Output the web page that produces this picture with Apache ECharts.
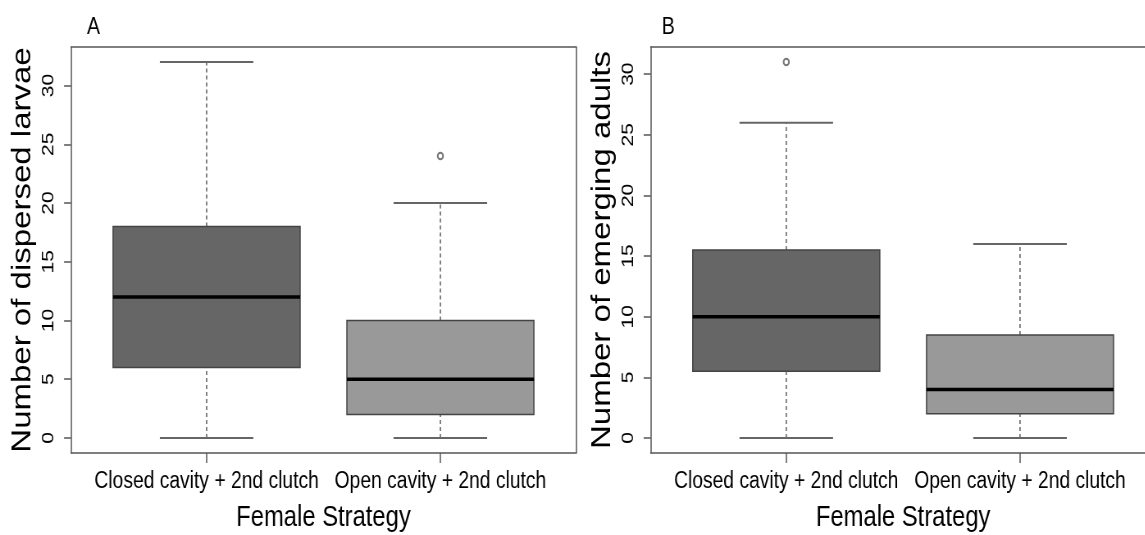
<!DOCTYPE html>
<html>
<head>
<meta charset="utf-8">
<script src="https://cdn.jsdelivr.net/npm/echarts@6/dist/echarts.min.js"></script>
<style>
  html, body { margin: 0; padding: 0; background: #fff; overflow: hidden; width: 1145px; height: 535px; }
  /* the figure is laid out wide and compressed horizontally */
  #chart { width: 1420px; height: 535px; transform: scaleX(0.82); transform-origin: 0 0; }
</style>
</head>
<body>
<div id="chart"></div>
<script>
// ---- data ----
const categories = ['Closed cavity + 2nd clutch', 'Open cavity + 2nd clutch'];
const panelLetters = ['A', 'B'];
const yTitles = ['Number of dispersed larvae', 'Number of emerging adults'];
const xTitle = 'Female Strategy';
const yTicks = [0, 5, 10, 15, 20, 25, 30];
const xTicks = [1, 2];

// five-number summaries per group: [lower whisker, Q1, median, Q3, upper whisker]
const larvaeStats = [[0, 6, 12, 18, 32], [0, 2, 5, 10, 20]];
const adultsStats = [[0, 5.5, 10, 15.5, 26], [0, 2, 4, 8.5, 16]];
// outliers: [group position, value]
const larvaeOutliers = [[2, 24]];
const adultsOutliers = [[1, 31]];

const boxFills = ['#666666', '#999999'];

// ---- styling ----
const FONT = '"Liberation Sans", Arial, Helvetica, sans-serif';
const INK = '#000';
const LINE = '#555';
const FRAME = { show: true, onZero: false, lineStyle: { color: LINE, width: 1.5 } };

// axis extent: data range padded by 4% on each side
function paddedRange(stats, outliers) {
  const vals = stats.flat().concat(outliers.map(o => o[1]));
  const lo = Math.min(...vals), hi = Math.max(...vals);
  const pad = (hi - lo) * 0.04;
  return [lo - pad, hi + pad];
}

function renderBox(params, api) {
  const x = api.value(0);
  const lo = api.value(1), q1 = api.value(2), md = api.value(3), q3 = api.value(4), hi = api.value(5);
  const half = api.size([0.8, 0])[0] / 2;
  const staple = half * 0.5;
  const cx = api.coord([x, md])[0];
  const y = v => api.coord([x, v])[1];
  const dash = { stroke: '#444', lineWidth: 1.3, lineDash: [4, 3] };
  const cap = { stroke: '#666', lineWidth: 2 };
  return {
    type: 'group',
    children: [
      { type: 'line', shape: { x1: cx, y1: y(q3), x2: cx, y2: y(hi) }, style: dash },
      { type: 'line', shape: { x1: cx, y1: y(lo), x2: cx, y2: y(q1) }, style: dash },
      { type: 'line', shape: { x1: cx - staple, y1: y(hi), x2: cx + staple, y2: y(hi) }, style: cap },
      { type: 'line', shape: { x1: cx - staple, y1: y(lo), x2: cx + staple, y2: y(lo) }, style: cap },
      { type: 'rect', shape: { x: cx - half, y: y(q3), width: 2 * half, height: y(q1) - y(q3) },
        style: { fill: boxFills[params.dataIndex], stroke: '#444', lineWidth: 1.5 } },
      { type: 'line', shape: { x1: cx - half, y1: y(md), x2: cx + half, y2: y(md) },
        style: { stroke: '#000', lineWidth: 3.5 } }
    ]
  };
}

// panel B's right frame edge falls past the edge of the figure
const panels = [
  { stats: larvaeStats, outliers: larvaeOutliers, left: 86.6, letterLeft: 106, rightEdge: true },
  { stats: adultsStats, outliers: adultsOutliers, left: 793.5, letterLeft: 807, rightEdge: false }
];
const GRID_W = 615.8;
const X_RANGE = [0.42, 2.58];

const grids = [], xAxes = [], yAxes = [], series = [], titles = [];
panels.forEach((p, i) => {
  const [ymin, ymax] = paddedRange(p.stats, p.outliers);
  grids.push({ left: p.left, width: GRID_W, top: 47, bottom: 82, show: false,
    outerBoundsMode: 'none', containLabel: false });

  // bottom axis with ticks and group labels
  xAxes.push({
    gridIndex: i, type: 'value', position: 'bottom', min: X_RANGE[0], max: X_RANGE[1],
    axisLine: FRAME, splitLine: { show: false },
    axisTick: { show: true, customValues: xTicks, length: 10, lineStyle: { color: LINE, width: 1.5 } },
    axisLabel: { customValues: xTicks, formatter: v => categories[Math.round(v) - 1] || '',
      margin: 17, fontSize: 23.5, color: INK, fontFamily: FONT },
    name: xTitle, nameLocation: 'middle', nameGap: 50,
    nameTextStyle: { fontSize: 29, color: INK, fontFamily: FONT }
  });
  // top edge of the plot frame
  xAxes.push({
    gridIndex: i, type: 'value', position: 'top', min: X_RANGE[0], max: X_RANGE[1],
    axisLine: FRAME, axisTick: { show: false }, axisLabel: { show: false }, splitLine: { show: false }
  });

  // left axis with ticks and labels
  yAxes.push({
    gridIndex: i, type: 'value', position: 'left', min: ymin, max: ymax,
    axisLine: FRAME, splitLine: { show: false },
    axisTick: { show: true, customValues: yTicks, length: 8.5, lineStyle: { color: LINE, width: 1.5 } },
    axisLabel: { customValues: yTicks, rotate: 90, margin: 17, fontSize: 21, color: INK, fontFamily: FONT },
    name: yTitles[i], nameLocation: 'middle', nameRotate: 90, nameGap: 42,
    nameTextStyle: { fontSize: 33, color: INK, fontFamily: FONT }
  });
  // right edge of the plot frame
  yAxes.push({
    gridIndex: i, type: 'value', position: 'right', min: ymin, max: ymax,
    axisLine: Object.assign({}, FRAME, { show: p.rightEdge }),
    axisTick: { show: false }, axisLabel: { show: false }, splitLine: { show: false }
  });

  series.push({
    type: 'custom', xAxisIndex: 2 * i, yAxisIndex: 2 * i,
    renderItem: renderBox,
    encode: { x: 0, y: [1, 2, 3, 4, 5] },
    data: p.stats.map((s, k) => [xTicks[k]].concat(s))
  });
  series.push({
    type: 'scatter', xAxisIndex: 2 * i, yAxisIndex: 2 * i,
    symbol: 'emptyCircle', symbolSize: 6.5,
    itemStyle: { color: LINE, borderColor: LINE, borderWidth: 1.2 },
    data: p.outliers
  });
  titles.push({ text: panelLetters[i], left: p.letterLeft, top: 15, padding: 0,
    textStyle: { fontSize: 24, fontWeight: 'normal', color: INK, fontFamily: FONT } });
});

const chart = echarts.init(document.getElementById('chart'), null, { renderer: 'canvas' });
chart.setOption({
  animation: false,
  backgroundColor: '#fff',
  title: titles,
  grid: grids,
  xAxis: xAxes,
  yAxis: yAxes,
  series: series
});
</script>
</body>
</html>
